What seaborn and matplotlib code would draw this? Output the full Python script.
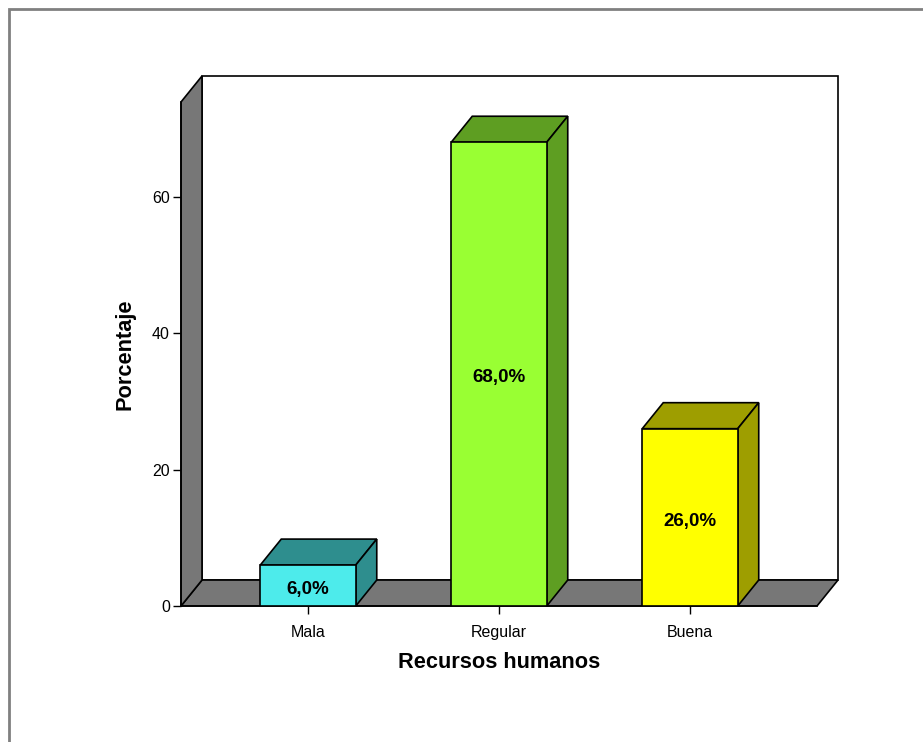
import matplotlib
matplotlib.use("Agg")
import matplotlib.pyplot as plt
import seaborn as sns
import pandas as pd
from matplotlib.patches import Polygon, Rectangle

categories = ["Mala", "Regular", "Buena"]
values = [6.0, 68.0, 26.0]
value_labels = ["6,0%", "68,0%", "26,0%"]
front_colors = ["#4DEBEB", "#99FF33", "#FFFF00"]
dark_colors = ["#2E8E8E", "#5E9E22", "#9E9E00"]
yticks = [0, 20, 40, 60]
xlabel = "Recursos humanos"
ylabel = "Porcentaje"

sns.set_style("white")
plt.rcParams['font.family'] = ['Liberation Sans', 'DejaVu Sans']
plt.rcParams['text.color'] = 'black'
plt.rcParams['axes.labelcolor'] = 'black'
plt.rcParams['xtick.color'] = 'black'
plt.rcParams['ytick.color'] = 'black'

W, H = 923, 742
fig = plt.figure(figsize=(W / 100, H / 100), dpi=100)
ax = fig.add_axes([181 / W, (H - 606) / H, (838 - 181) / W, (606 - 76) / H])

df = pd.DataFrame({"cat": categories, "val": values})
sns.barplot(data=df, x="cat", y="val", hue="cat", palette=front_colors,
            width=0.5, saturation=1, edgecolor="black", linewidth=1.2,
            legend=False, ax=ax, zorder=5)

x0, x1 = -0.665, 2.665
ymax_front = 73.9
dx, dy = 0.110, 3.81
ax.set_xlim(x0, x1 + dx)
ax.set_ylim(0, ymax_front + dy)

gray = "#777777"
lw = 1.2
# back wall
ax.add_patch(Polygon([(x0 + dx, dy), (x1 + dx, dy), (x1 + dx, ymax_front + dy),
                      (x0 + dx, ymax_front + dy)], closed=True, facecolor="white",
                     edgecolor="black", lw=lw, zorder=1, clip_on=False))
# floor
ax.add_patch(Polygon([(x0, 0), (x1, 0), (x1 + dx, dy), (x0 + dx, dy)], closed=True,
                     facecolor=gray, edgecolor="black", lw=lw, zorder=2, clip_on=False))
# left wall
ax.add_patch(Polygon([(x0, 0), (x0 + dx, dy), (x0 + dx, ymax_front + dy), (x0, ymax_front)],
                     closed=True, facecolor=gray, edgecolor="black", lw=lw, zorder=2,
                     clip_on=False))

bw = 0.5
for i, (v, dc) in enumerate(zip(values, dark_colors)):
    l, r = i - bw / 2, i + bw / 2
    ax.add_patch(Polygon([(l, v), (r, v), (r + dx, v + dy), (l + dx, v + dy)], closed=True,
                         facecolor=dc, edgecolor="black", lw=lw, zorder=4, clip_on=False))
    ax.add_patch(Polygon([(r, 0), (r + dx, dy), (r + dx, v + dy), (r, v)], closed=True,
                         facecolor=dc, edgecolor="black", lw=lw, zorder=4, clip_on=False))
    ax.text(i, v / 2 - 0.55, value_labels[i], ha="center", va="center", fontsize=13.5,
            fontweight="bold", zorder=6)

for s in ["top", "right"]:
    ax.spines[s].set_visible(False)
ax.spines["left"].set_bounds(0, ymax_front)
ax.spines["bottom"].set_bounds(x0, x1)
for s in ["left", "bottom"]:
    ax.spines[s].set_linewidth(lw)
    ax.spines[s].set_color("black")
    ax.spines[s].set_zorder(3)

ax.set_yticks(yticks)
ax.set_yticklabels([str(t) for t in yticks])
ax.set_xticks(range(len(categories)))
ax.set_xticklabels(categories)
ax.tick_params(axis="both", which="major", direction="out", length=6, width=1,
               color="black", labelsize=11.5, left=True, bottom=True)
ax.tick_params(axis="x", pad=8)
ax.tick_params(axis="y", pad=2)
ax.set_xlabel(xlabel, fontsize=15.7, fontweight="bold", labelpad=10)
ax.xaxis.set_label_coords((499 - 181) / 657, -(663 - 606) / 530)
ax.xaxis.label.set_va("center")
ax.set_ylabel(ylabel, fontsize=15.7, fontweight="bold")
ax.yaxis.set_label_coords(-0.0685, (606 - 354) / 530)

# outer frame
fig.patches.append(Rectangle((9 / W, -0.05), 1.1, (H - 9) / H + 0.05,
                             transform=fig.transFigure, fill=False,
                             edgecolor="#808080", lw=2, figure=fig))

fig.savefig("out.png", dpi=100)
